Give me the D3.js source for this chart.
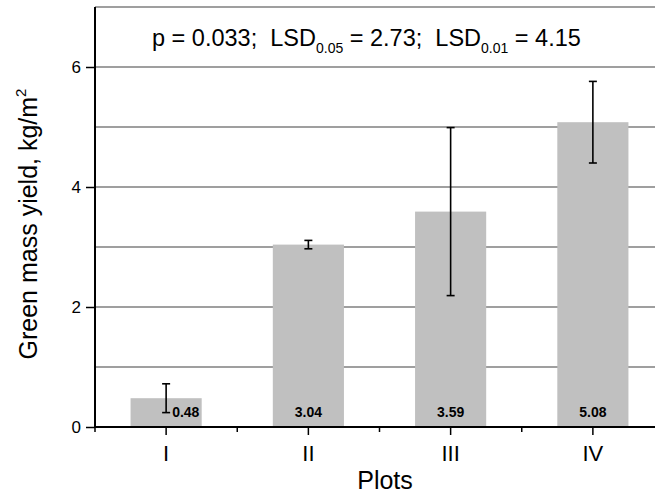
<!DOCTYPE html>
<html><head><meta charset="utf-8">
<script src="https://cdn.jsdelivr.net/npm/d3@7"></script>
<style>
body{margin:0;background:#fff}
svg{display:block}
text{font-family:"Liberation Sans",Arial,sans-serif;fill:#000}
</style>
</head><body>
<svg id="c" width="655" height="495"></svg>
<script>
const categories = ["I", "II", "III", "IV"];
const means = [0.48, 3.04, 3.59, 5.08];
const errors = [0.24, 0.07, 1.40, 0.68];
const valueLabels = ["0.48", "3.04", "3.59", "5.08"];
const yTickValues = [0, 2, 4, 6];
const gridValues = [1, 2, 3, 4, 5, 6, 7];
const yDomain = [0, 7];
const annotationParts = [
  {t: "p = 0.033;\u00a0\u00a0LSD", sub: false},
  {t: "0.05", sub: true},
  {t: " = 2.73;\u00a0\u00a0LSD", sub: false},
  {t: "0.01", sub: true},
  {t: " = 4.15", sub: false}
];
const xTitle = "Plots";
const yTitle = "Green mass yield, kg/m";
const yTitleSup = "2";

(function () {
const svg = d3.select("#c");
const pL = 95, pR = 664, pT = 7, pB = 427;
const x = d3.scaleBand().domain(categories).range([pL, pR]).padding(0);
const y = d3.scaleLinear().domain(yDomain).range([pB, pT]);
const bw = x.bandwidth();

// gridlines
svg.append("g").selectAll("line").data(gridValues).join("line")
  .attr("x1", pL).attr("x2", pR)
  .attr("y1", d => y(d)).attr("y2", d => y(d))
  .attr("stroke", "#7f7f7f").attr("stroke-width", 1.5);

// bars
const data = categories.map((c, i) => ({c, m: means[i], e: errors[i], l: valueLabels[i]}));
svg.append("g").selectAll("rect").data(data).join("rect")
  .attr("x", d => x(d.c) + bw * 0.25)
  .attr("width", bw * 0.5)
  .attr("y", d => y(d.m))
  .attr("height", d => y(0) - y(d.m))
  .attr("fill", "#c0c0c0");

// error bars
const eg = svg.append("g").attr("stroke", "#000").attr("stroke-width", 1.6);
data.forEach(d => {
  const cx = x(d.c) + bw / 2;
  eg.append("line").attr("x1", cx).attr("x2", cx).attr("y1", y(d.m + d.e)).attr("y2", y(d.m - d.e));
  eg.append("line").attr("x1", cx - 4).attr("x2", cx + 4).attr("y1", y(d.m + d.e)).attr("y2", y(d.m + d.e));
  eg.append("line").attr("x1", cx - 4).attr("x2", cx + 4).attr("y1", y(d.m - d.e)).attr("y2", y(d.m - d.e));
});

// value labels
svg.append("g").selectAll("text").data(data).join("text")
  .attr("x", d => x(d.c) + bw / 2 + ((d.m - d.e) < 0.5 ? 6 : 0))
  .attr("y", pB - 10)
  .attr("text-anchor", d => (d.m - d.e) < 0.5 ? "start" : "middle")
  .attr("font-size", 14).attr("font-weight", "bold")
  .text(d => d.l);

// y axis
const yAxis = d3.axisLeft(y).tickValues(yTickValues).tickFormat(d3.format("d")).tickSize(9).tickPadding(5);
const gy = svg.append("g").attr("transform", `translate(${pL},0)`).call(yAxis);
gy.select(".domain").remove();
gy.selectAll(".tick line").attr("stroke", "#000").attr("stroke-width", 1.5);
gy.selectAll(".tick text").attr("font-size", 17).attr("font-family", "Liberation Sans, Arial, sans-serif");
svg.append("line").attr("x1", pL).attr("x2", pL).attr("y1", pT).attr("y2", pB + 1)
  .attr("stroke", "#000").attr("stroke-width", 2);

// x axis
const xAxis = d3.axisBottom(x).tickSize(8).tickPadding(10);
const gx = svg.append("g").attr("transform", `translate(0,${pB})`).call(xAxis);
gx.select(".domain").remove();
gx.selectAll(".tick line").attr("stroke", "#000").attr("stroke-width", 1.5);
gx.selectAll(".tick text").attr("font-size", 22).attr("font-family", "Liberation Sans, Arial, sans-serif");
const bounds = categories.map(c => x(c)).concat([pR]);
svg.append("g").selectAll("line").data(bounds).join("line")
  .attr("x1", d => d).attr("x2", d => d)
  .attr("y1", pB).attr("y2", pB + 5)
  .attr("stroke", "#000").attr("stroke-width", 1.5);
svg.append("line").attr("x1", pL - 1).attr("x2", pR).attr("y1", pB).attr("y2", pB)
  .attr("stroke", "#000").attr("stroke-width", 2);

// annotation
const ann = svg.append("text").attr("x", 152).attr("y", 46).attr("font-size", 23.5);
let prevSub = false;
annotationParts.forEach(p => {
  const ts = ann.append("tspan").text(p.t);
  if (p.sub) { ts.attr("font-size", 14).attr("dy", 7); prevSub = true; }
  else { if (prevSub) ts.attr("dy", -7); prevSub = false; }
});

// axis titles
svg.append("text").attr("x", 385).attr("y", 489).attr("text-anchor", "middle")
  .attr("font-size", 25).text(xTitle);
const yt = svg.append("text").attr("transform", "translate(37,224) rotate(-90)")
  .attr("text-anchor", "middle").attr("font-size", 25);
yt.append("tspan").text(yTitle);
yt.append("tspan").attr("font-size", 15).attr("dy", -11).text(yTitleSup);
})();
</script>
</body></html>
